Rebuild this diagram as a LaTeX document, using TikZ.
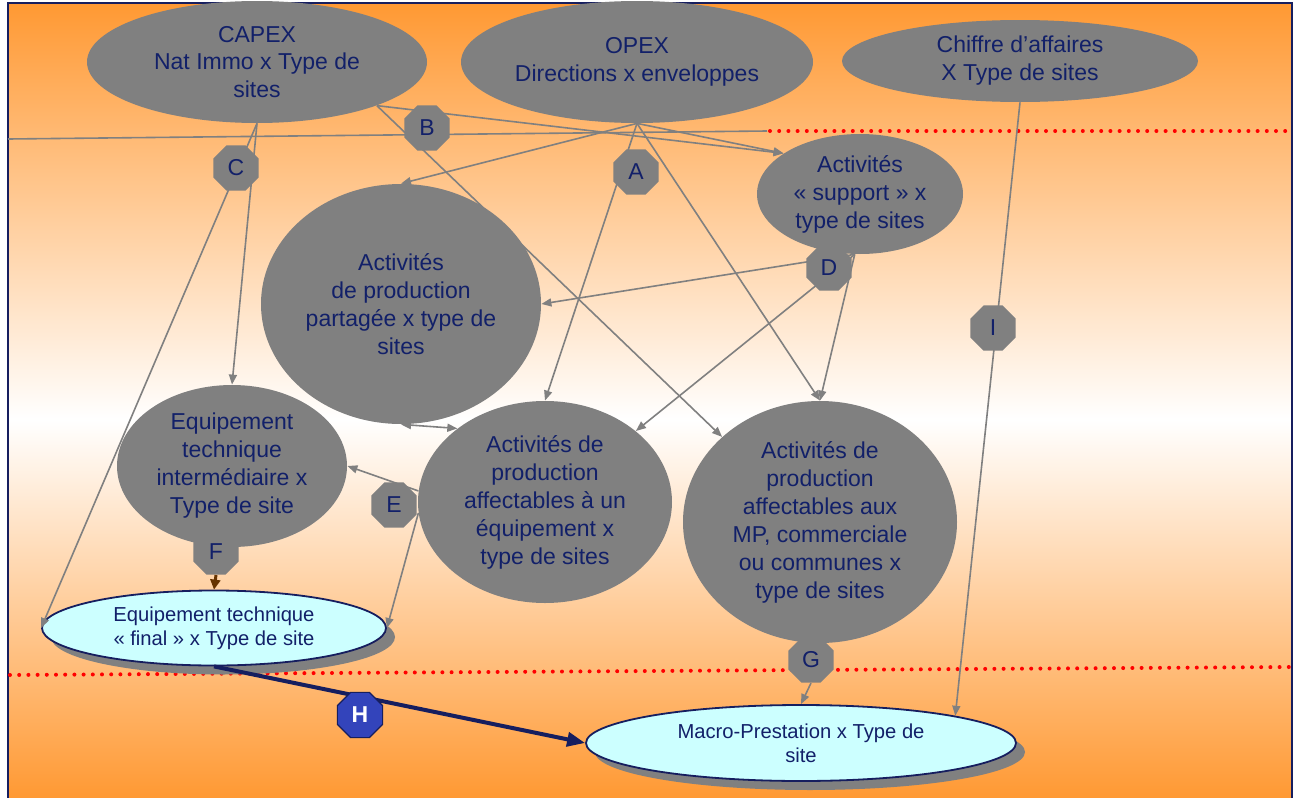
\documentclass[tikz,border=0pt]{standalone}
\usepackage{fontspec}
\setmainfont{Liberation Sans}
\usetikzlibrary{shapes.geometric,arrows.meta,shadows}
\definecolor{bgorange}{RGB}{255,153,51}
\definecolor{blobgray}{RGB}{128,128,128}
\definecolor{inknavy}{RGB}{18,32,105}
\definecolor{framenavy}{RGB}{22,30,95}
\definecolor{paleblue}{RGB}{204,255,255}
\definecolor{hblue}{RGB}{51,68,187}
\definecolor{arrowbrown}{RGB}{102,51,0}

\begin{document}
\begin{tikzpicture}[x=0.5pt,y=-0.5pt,
    blob/.style={ellipse,fill=blobgray,inner sep=0pt,text=inknavy,align=center,
        font=\fontsize{11.5}{14}\selectfont},
    endblob/.style={ellipse,fill=paleblue,draw=framenavy,line width=0.9pt,inner sep=0pt,
        text=inknavy,align=center,font=\fontsize{10.1}{12}\selectfont,
        drop shadow={shadow xshift=4.5pt,shadow yshift=-4.5pt,fill=blobgray,draw=none,opacity=1}},
    lettertag/.style={regular polygon,regular polygon sides=8,minimum size=24.5pt,inner sep=0pt,
        fill=blobgray,text=inknavy,font=\fontsize{11.5}{14}\selectfont},
    feed/.style={draw=blobgray,line width=0.8pt,-{Triangle[length=5pt,width=4pt]}},
    reddots/.style={red,line width=2pt,line cap=round,dash pattern=on 0pt off 4.6pt}
]
    \useasboundingbox (0,0) rectangle (1298,798);

    % Background
    \shade[top color=bgorange,bottom color=white] (8,3) rectangle (1292,420);
    \shade[top color=white,bottom color=bgorange] (8,420) rectangle (1292,798);
    \draw[framenavy,line width=1.2pt] (8,798) -- (8,3) -- (1292,3) -- (1292,798);

    % Separators
    \coordinate (sepL) at (8,139);
    \coordinate (sepR) at (767,131);
    \draw[blobgray,line width=0.8pt] (sepL) -- (sepR);
    \coordinate (dotTL) at (770,131);
    \coordinate (dotTR) at (1286,131);
    \coordinate (dotBL) at (10,675);
    \coordinate (dotBR) at (1290,667);
    \draw[reddots] (dotTL) -- (dotTR);
    \draw[reddots] (dotBL) -- (dotBR);

    % Sources
    \node[blob,minimum width=170pt,minimum height=61pt,font=\fontsize{11.5}{13.8}\selectfont]
        (capex) at (257,62) {CAPEX\\Nat Immo x Type de\\sites};
    \node[blob,minimum width=176pt,minimum height=61pt] (opex) at (637,62) {OPEX\\Directions x enveloppes};
    \node[blob,minimum width=178pt,minimum height=41pt] (chiffre) at (1020,61) {Chiffre d’affaires\\X Type de sites};

    % Activities
    \node[blob,minimum width=103pt,minimum height=60pt] (support) at (860,194) {Activités\\« support » x\\type de sites};
    \node[blob,minimum width=140pt,minimum height=120pt] (partagee) at (401,304) {Activités\\de production\\partagée x type de\\sites};
    \node[blob,minimum width=115pt,minimum height=81pt] (inter) at (232,466) {Equipement\\technique\\intermédiaire x\\Type de site};
    \node[blob,minimum width=127pt,minimum height=101pt] (equip) at (545,502) {Activités de\\production\\affectables à un\\équipement x\\type de sites};
    \node[blob,minimum width=137pt,minimum height=121pt] (mp) at (820,522) {Activités de\\production\\affectables aux\\MP, commerciale\\ou communes x\\type de sites};

    % Results
    \node[endblob,minimum width=172pt,minimum height=37.5pt] (final) at (214,628) {Equipement technique\\« final » x Type de site};
    \node[endblob,minimum width=215pt,minimum height=38pt] (macro) at (801,743) {Macro-Prestation x Type de\\site};

    % Flows
    \draw[feed] (capex.-20) -- (support.152);
    \draw[feed] (opex.south) -- (support.152);
    \draw[feed] (capex.-20) -- (mp.139);
    \draw[feed] (opex.south) -- (partagee.north);
    \draw[feed] (opex.south) -- (equip.north);
    \draw[feed] (opex.south) -- (mp.north);
    \draw[feed] (capex.south) -- (inter.north);
    \draw[feed] (capex.south) -- (final.west);
    \draw[feed] (support.-95) -- (partagee.east);
    \draw[feed] (support.-95) -- (equip.38);
    \draw[feed] (support.-95) -- (mp.north);
    \draw[feed,{Triangle[length=5pt,width=4pt]}-{Triangle[length=5pt,width=4pt]}] (partagee.south) -- (equip.140);
    \draw[feed] (equip.175) -- (inter.east);
    \draw[feed] (equip.185) -- (final.east);
    \draw[feed] (chiffre.south) -- (macro.10);
    \draw[framenavy,line width=2pt,-{Triangle[length=9pt,width=7pt]}] (final.south) -- (macro.west);

    % Letters
    \node[lettertag] (A) at (636,172) {A};
    \node[lettertag] (B) at (427,128) {B};
    \node[lettertag] (C) at (236,168) {C};
    \node[lettertag] (D) at (829,268) {D};
    \node[lettertag] (E) at (394,505) {E};
    \node[lettertag] (F) at (216,552) {F};
    \node[lettertag] (G) at (811,660) {G};
    \node[lettertag] (I) at (993,328) {I};
    \node[lettertag,fill=hblue,draw=framenavy,line width=0.6pt,text=white] (H) at (360,715) {\textbf{H}};

    \draw[arrowbrown,line width=1.5pt,-{Triangle[length=5pt,width=5pt]}] (F.south) -- (final.north);
    \draw[feed] (G.south) -- (macro.north);
\end{tikzpicture}
\end{document}
